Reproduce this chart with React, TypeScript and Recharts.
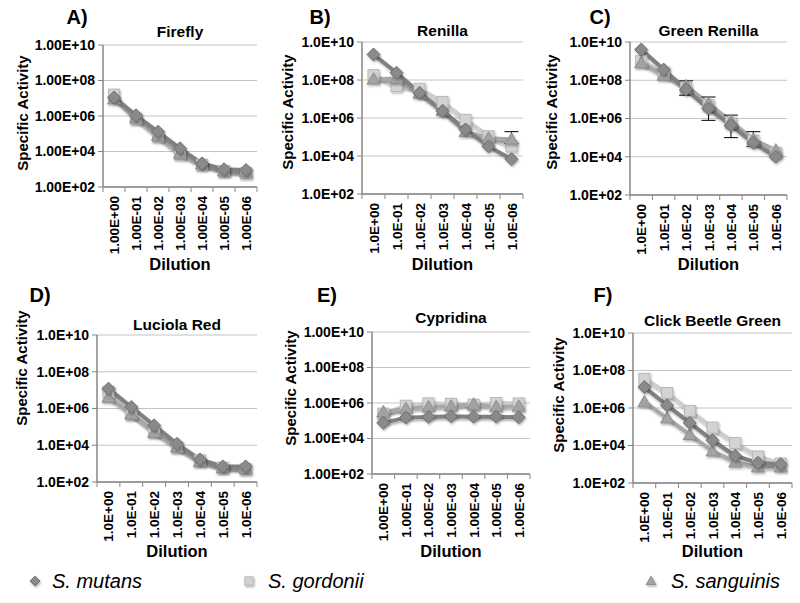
import React from 'react';
import { LineChart, Line, XAxis, YAxis, CartesianGrid, ErrorBar } from 'recharts';

const FONT = '"Liberation Sans", Arial, Helvetica, sans-serif';

// tick labels
const dilutionsLong = ['1.00E+00', '1.00E-01', '1.00E-02', '1.00E-03', '1.00E-04', '1.00E-05', '1.00E-06'];
const dilutionsShort = ['1.0E+00', '1.0E-01', '1.0E-02', '1.0E-03', '1.0E-04', '1.0E-05', '1.0E-06'];
const yTicks = [1e2, 1e4, 1e6, 1e8, 1e10];
const strains = ['S. mutans', 'S. gordonii', 'S. sanguinis'];

// A) Firefly
const fireflyMutans = [1.1e7, 1.1e6, 1.3e5, 1.5e4, 2.1e3, 1.0e3, 9e2];
const fireflyGordonii = [1.6e7, 7e5, 7e4, 7e3, 1.8e3, 8e2, 6e2];
const fireflySanguinis = [9e6, 8e5, 8e4, 8e3, 2e3, 8e2, 7e2];

// B) Renilla
const renillaMutans = [2.2e9, 2.4e8, 2.1e7, 2.3e6, 2.5e5, 3.2e4, 6.8e3];
const renillaGordonii = [1.8e8, 4.8e7, 3.5e7, 7e6, 8e5, 1.1e5, 3.2e4];
const renillaSanguinis = [1.1e8, 1.2e8, 2e7, 2.5e6, 1.9e5, 8.6e4, 7.6e4];
const renillaSanguinisErr = [0, 0, 0, 0, 0, 0, [3e4, 1.15e5]];

// C) Green Renilla
const greenMutans = [4e9, 3.6e8, 3.3e7, 3.3e6, 4.5e5, 5.4e4, 1e4];
const greenGordonii = [1e9, 2.5e8, 4e7, 5e6, 6e5, 7e4, 1.6e4];
const greenSanguinis = [8e8, 1.8e8, 5e7, 6e6, 7e5, 8e4, 2.2e4];
const greenMutansErr = [0, 0, [1.65e7, 6e7], [2.5e6, 1.0e7], [3.5e5, 1.05e6], [2e4, 1.5e5], 0];

// D) Luciola Red
const luciolaMutans = [1.2e7, 1.2e6, 1.2e5, 1.2e4, 1.7e3, 7e2, 7e2];
const luciolaGordonii = [8e6, 5e5, 6e4, 8e3, 1.5e3, 6e2, 5e2];
const luciolaSanguinis = [4e6, 5e5, 5e4, 8e3, 1.3e3, 6e2, 5.5e2];

// E) Cypridina
const cypridinaMutans = [7.6e4, 1.5e5, 1.65e5, 1.8e5, 1.7e5, 1.7e5, 1.55e5];
const cypridinaGordonii = [2.5e5, 7e5, 9.5e5, 9e5, 8e5, 1e6, 9.5e5];
const cypridinaSanguinis = [3.1e5, 4.8e5, 6e5, 6.6e5, 8.5e5, 6e5, 6.5e5];

// F) Click Beetle Green
const clickMutans = [1.3e7, 1.4e6, 1.6e5, 1.9e4, 2.8e3, 1.2e3, 1e3];
const clickGordonii = [3.6e7, 6.3e6, 7e5, 9e4, 1.35e4, 2.6e3, 1.1e3];
const clickSanguinis = [2.1e6, 2.9e5, 3.8e4, 5e3, 1.3e3, 7e2, 7e2];

const colors = {
  m: { line: '#808080', fill: '#8a8a8a', edge: '#6e6e6e' },
  g: { line: '#cdcdcd', fill: '#d3d3d3', edge: '#b8b8b8' },
  s: { line: '#a8a8a8', fill: '#a3a3a3', edge: '#8e8e8e' },
};

const fmtExp = (digits: number) => (v: number) => {
  const [mant, e] = v.toExponential(digits).split('e');
  const n = parseInt(e, 10);
  return `${mant}E${n < 0 ? '-' : '+'}${String(Math.abs(n)).padStart(2, '0')}`;
};

const shapeDot = (shape: 'diamond' | 'square' | 'triangle', fill: string, edge: string, k = 1) => (props: any) => {
  const { cx, cy, index } = props;
  if (cx == null || cy == null) return <g key={index} />;
  if (shape === 'diamond') {
    const r = 6.5 * k;
    return (
      <polygon key={index} points={`${cx},${cy - r} ${cx + r},${cy} ${cx},${cy + r} ${cx - r},${cy}`}
        fill={fill} stroke={edge} strokeWidth={1} filter="url(#dotShadow)" />
    );
  }
  if (shape === 'square') {
    const r = 5.5 * k;
    return <rect key={index} x={cx - r} y={cy - r} width={2 * r} height={2 * r} fill={fill} stroke={edge} strokeWidth={1} filter="url(#dotShadow)" />;
  }
  const r = 6.5 * k;
  return (
    <polygon key={index} points={`${cx},${cy - r} ${cx + r},${cy + r * 0.75} ${cx - r},${cy + r * 0.75}`}
      fill={fill} stroke={edge} strokeWidth={1} filter="url(#dotShadow)" />
  );
};

const XTick = (props: any) => {
  const { x, payload, index, axisY, bw } = props;
  return (
    <g>
      <line x1={x - bw / 2} x2={x - bw / 2} y1={axisY} y2={axisY + 5} stroke="#868686" />
      {index === 6 && <line x1={x + bw / 2} x2={x + bw / 2} y1={axisY} y2={axisY + 5} stroke="#868686" />}
      <text transform={`translate(${x + 5},${axisY + 9}) rotate(-90)`} textAnchor="end"
        fontSize={13.5} fontWeight="bold" fontFamily={FONT} fill="#000">{payload.value}</text>
    </g>
  );
};

type PanelCfg = {
  id: string; title: string; L: number; T: number; R: number; B: number;
  labels: string[]; digits: number; m: number[]; g: number[]; s: number[];
  mErr?: any[]; sErr?: any[];
  idPos: [number, number]; titleY: number; yLab: [number, number]; dilY: number;
};

const panels: PanelCfg[] = [
  { id: 'A)', title: 'Firefly', L: 103, T: 45, R: 257, B: 187, labels: dilutionsLong, digits: 2,
    m: fireflyMutans, g: fireflyGordonii, s: fireflySanguinis, idPos: [77, 17], titleY: 32, yLab: [22, 113], dilY: 264 },
  { id: 'B)', title: 'Renilla', L: 362, T: 42, R: 523, B: 194, labels: dilutionsShort, digits: 1,
    m: renillaMutans, g: renillaGordonii, s: renillaSanguinis, sErr: renillaSanguinisErr, idPos: [320, 17], titleY: 31, yLab: [287, 112], dilY: 264 },
  { id: 'C)', title: 'Green Renilla', L: 630, T: 42, R: 787, B: 195, labels: dilutionsShort, digits: 1,
    m: greenMutans, g: greenGordonii, s: greenSanguinis, mErr: greenMutansErr, idPos: [600, 17], titleY: 31, yLab: [551, 112], dilY: 264 },
  { id: 'D)', title: 'Luciola Red', L: 97, T: 335, R: 257, B: 482, labels: dilutionsShort, digits: 1,
    m: luciolaMutans, g: luciolaGordonii, s: luciolaSanguinis, idPos: [40, 295], titleY: 325, yLab: [21, 368], dilY: 551 },
  { id: 'E)', title: 'Cypridina', L: 372, T: 332, R: 530, B: 474, labels: dilutionsLong, digits: 2,
    m: cypridinaMutans, g: cypridinaGordonii, s: cypridinaSanguinis, idPos: [327, 295], titleY: 318, yLab: [290, 388], dilY: 551 },
  { id: 'F)', title: 'Click Beetle Green', L: 633, T: 333, R: 792, B: 483, labels: dilutionsShort, digits: 1,
    m: clickMutans, g: clickGordonii, s: clickSanguinis, idPos: [603, 295], titleY: 321, yLab: [558, 395], dilY: 551 },
];

const centered = (x: number, y: number, extra: React.CSSProperties = {}): React.CSSProperties => ({
  position: 'absolute', left: x, top: y, transform: 'translate(-50%, -50%)', whiteSpace: 'nowrap',
  fontWeight: 'bold', color: '#000', lineHeight: 1, ...extra,
});

function Panel({ p }: { p: PanelCfg }) {
  const plotW = p.R - p.L;
  const plotH = p.B - p.T;
  const width = plotW + 100 + 8;
  const height = plotH + 10 + 75;
  const bw = plotW / 7;
  const axisY = 10 + plotH;
  const data = p.labels.map((d, i) => ({
    dil: d, m: p.m[i], g: p.g[i], s: p.s[i],
    mErr: p.mErr ? p.mErr[i] : 0, sErr: p.sErr ? p.sErr[i] : 0,
  }));
  return (
    <>
      <div style={{ position: 'absolute', left: p.L - 100, top: p.T - 10 }}>
        <LineChart width={width} height={height} data={data} margin={{ top: 10, right: 8, bottom: 0, left: 0 }}>
          <CartesianGrid vertical={false} stroke="#c4c4c4" />
          <XAxis dataKey="dil" scale="band" height={75} interval={0} tickLine={false}
            axisLine={{ stroke: '#868686', strokeWidth: 1.5 }}
            tick={(tp: any) => <XTick {...tp} axisY={axisY} bw={bw} />} />
          <YAxis scale="log" domain={[1e2, 1e10]} ticks={yTicks} allowDataOverflow interval={0} width={100}
            tickFormatter={fmtExp(p.digits)} tickSize={5} tickMargin={3}
            tick={{ fontSize: 14, fontWeight: 'bold', fill: '#000', fontFamily: FONT }}
            axisLine={{ stroke: '#868686', strokeWidth: 1.5 }} tickLine={{ stroke: '#868686' }} />
          <Line dataKey="g" stroke={colors.g.line} strokeWidth={4} filter="url(#lineShadow)"
            dot={shapeDot('square', colors.g.fill, colors.g.edge)} isAnimationActive={false} />
          <Line dataKey="s" stroke={colors.s.line} strokeWidth={4} filter="url(#lineShadow)"
            dot={shapeDot('triangle', colors.s.fill, colors.s.edge)} isAnimationActive={false}>
            {p.sErr && <ErrorBar dataKey="sErr" direction="y" width={7} stroke="#000" strokeWidth={1} />}
          </Line>
          <Line dataKey="m" stroke={colors.m.line} strokeWidth={4} filter="url(#lineShadow)"
            dot={shapeDot('diamond', colors.m.fill, colors.m.edge)} isAnimationActive={false}>
            {p.mErr && <ErrorBar dataKey="mErr" direction="y" width={7} stroke="#000" strokeWidth={1} />}
          </Line>
        </LineChart>
      </div>
      <div style={centered(p.idPos[0], p.idPos[1], { fontSize: 20 })}>{p.id}</div>
      <div style={centered((p.L + p.R) / 2, p.titleY, { fontSize: 15.5 })}>{p.title}</div>
      <div style={centered(p.yLab[0], p.yLab[1], { fontSize: 15, transform: 'translate(-50%, -50%) rotate(-90deg)' })}>
        Specific Activity
      </div>
      <div style={centered((p.L + p.R) / 2, p.dilY, { fontSize: 16.5 })}>Dilution</div>
    </>
  );
}

function LegendRow() {
  const items = [
    { name: strains[0], shape: 'diamond' as const, c: colors.m, x: 35, tx: 52 },
    { name: strains[1], shape: 'square' as const, c: colors.g, x: 249, tx: 268 },
    { name: strains[2], shape: 'triangle' as const, c: colors.s, x: 651, tx: 671 },
  ];
  return (
    <>
      {items.map((it) => (
        <React.Fragment key={it.name}>
          <svg width={16} height={16} style={{ position: 'absolute', left: it.x - 8, top: 581 - 8 }}>
            {shapeDot(it.shape, it.c.fill, it.c.edge, 0.75)({ cx: 8, cy: 8, index: 0 })}
          </svg>
          <div style={{ position: 'absolute', left: it.tx, top: 581, transform: 'translateY(-50%)',
            fontSize: 20, fontStyle: 'italic', lineHeight: 1, whiteSpace: 'nowrap', color: '#000' }}>
            {it.name}
          </div>
        </React.Fragment>
      ))}
    </>
  );
}

export default function App() {
  return (
    <div style={{ position: 'absolute', left: 0, top: 0, width: 800, height: 603, background: '#fff',
      fontFamily: FONT, overflow: 'hidden' }}>
      <svg width={0} height={0} style={{ position: 'absolute' }}>
        <defs>
          <filter id="lineShadow" filterUnits="userSpaceOnUse" x={-1000} y={-1000} width={3000} height={3000}>
            <feDropShadow dx={1.2} dy={2} stdDeviation={1.3} floodColor="#000" floodOpacity={0.3} />
          </filter>
          <filter id="dotShadow" x="-50%" y="-50%" width="200%" height="200%">
            <feDropShadow dx={1} dy={1.5} stdDeviation={1} floodColor="#000" floodOpacity={0.3} />
          </filter>
        </defs>
      </svg>
      {panels.map((p) => <Panel key={p.id} p={p} />)}
      <LegendRow />
    </div>
  );
}
